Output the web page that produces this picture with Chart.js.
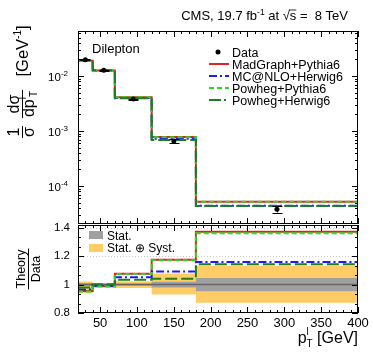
<!DOCTYPE html>
<html>
<head>
<meta charset="utf-8">
<script src="https://cdn.jsdelivr.net/npm/chart.js@4.4.1/dist/chart.umd.min.js"></script>
<style>
  html, body { margin: 0; padding: 0; background: #fff; }
  #wrap { position: relative; width: 373px; height: 357px; }
  canvas { position: absolute; left: 0; top: 0; }
</style>
</head>
<body>
<div id="wrap">
  <canvas id="ratio" width="373" height="357"></canvas>
  <canvas id="main" width="373" height="357"></canvas>
</div>
<script>
// bins in p_T^l [GeV]
const binEdges = [20, 40, 70, 120, 180, 400];
const dataX = [30, 55, 95, 150, 290];

// normalised cross section, top panel
const dataValues = [0.0198, 0.0127, 0.0038, 0.00066, 0.000038];
const dataErrors = [0.0005, 0.00015, 0.00009, 0.00005, 0.000005];
const madgraphValues = [0.0189, 0.01255, 0.0041, 0.00078, 0.000052];
const mcatnloValues = [0.0191, 0.0126, 0.0040, 0.00072, 0.000044];
const powhegPythiaValues = [0.0188, 0.01255, 0.0041, 0.00077, 0.0000518];
const powhegHerwigValues = [0.0194, 0.0127, 0.00393, 0.00069, 0.0000434];

// theory / data, bottom panel
const madgraphRatio = [0.955, 0.988, 1.077, 1.175, 1.372];
const mcatnloRatio = [0.966, 0.992, 1.051, 1.092, 1.160];
const powhegPythiaRatio = [0.952, 0.986, 1.074, 1.172, 1.362];
const powhegHerwigRatio = [0.980, 1.002, 1.035, 1.042, 1.143];
const statLow = [0.991, 0.994, 0.992, 0.980, 0.953];
const statHigh = [1.009, 1.006, 1.008, 1.020, 1.047];
const statSystLow = [0.940, 0.988, 0.977, 0.930, 0.872];
const statSystHigh = [1.022, 1.012, 1.023, 1.078, 1.133];

// axis ticks
const xTickValues = [50, 100, 150, 200, 250, 300, 350, 400];
const logTickValues = [1e-4, 1e-3, 1e-2];
const logTickExponents = ['-4', '-3', '-2'];
const ratioTickValues = [0.8, 1, 1.2, 1.4];
const ratioTickLabels = ['0.8', '1', '1.2', '1.4'];

const FONT = '"Liberation Sans", Arial, Helvetica, sans-serif';
const RED = '#e62020', BLUE = '#1a1aff', GREEN = '#22dd22', DKGREEN = '#1e7d1e';

function font(size) { return size + 'px ' + FONT; }

function stepPoints(values) {
  const pts = [];
  values.forEach((v, i) => {
    pts.push({ x: binEdges[i], y: v }, { x: binEdges[i + 1], y: v });
  });
  return pts;
}

function stepLine(label, values, color, dash, extra) {
  return Object.assign({
    label: label,
    data: stepPoints(values),
    borderColor: color,
    borderDash: dash,
    borderWidth: 2,
    pointRadius: 0,
    fill: false,
    tension: 0
  }, extra || {});
}

// parts: [text, size, dy]
function partsWidth(ctx, parts) {
  let w = 0;
  parts.forEach(([t, s]) => { ctx.font = font(s); w += ctx.measureText(t).width; });
  return w;
}
function drawParts(ctx, parts, x, y) {
  let cx = x;
  parts.forEach(([t, s, dy]) => {
    ctx.font = font(s);
    ctx.fillText(t, cx, y + (dy || 0));
    cx += ctx.measureText(t).width;
  });
}

function minorX() {
  const list = [];
  for (let v = 20; v <= 400; v += 10) list.push([v, v % 50 === 0 ? 6 : 3]);
  return list;
}

function frameAndTicks(chart, yList) {
  const { ctx, chartArea: a, scales } = chart;
  ctx.save();
  ctx.strokeStyle = '#000';
  ctx.lineWidth = 1;
  ctx.beginPath();
  minorX().forEach(([v, len]) => {
    const px = Math.round(scales.x.getPixelForValue(v)) + 0.5;
    ctx.moveTo(px, a.bottom); ctx.lineTo(px, a.bottom - len);
    ctx.moveTo(px, a.top); ctx.lineTo(px, a.top + len);
  });
  yList.forEach(([v, len]) => {
    const py = Math.round(scales.y.getPixelForValue(v)) + 0.5;
    ctx.moveTo(a.left, py); ctx.lineTo(a.left + len, py);
    ctx.moveTo(a.right, py); ctx.lineTo(a.right - len, py);
  });
  ctx.stroke();
  ctx.strokeRect(a.left + 0.5, a.top + 0.5, a.right - a.left - 1, a.bottom - a.top - 1);
  ctx.restore();
}

// rotated fraction, bar centred at (x, y) on screen
function rotatedFraction(ctx, num, den, x, y, denOffset) {
  ctx.save();
  ctx.translate(x, y);
  ctx.rotate(-Math.PI / 2);
  const wn = partsWidth(ctx, num), wd = partsWidth(ctx, den);
  const L = Math.max(wn, wd) + 2;
  ctx.lineWidth = 1;
  ctx.beginPath();
  ctx.moveTo(-L / 2, 0.5); ctx.lineTo(L / 2, 0.5);
  ctx.stroke();
  drawParts(ctx, num, -wn / 2, -3);
  drawParts(ctx, den, -wd / 2, denOffset);
  ctx.restore();
}

const mainDecor = {
  id: 'mainDecor',
  afterDatasetsDraw(chart) {
    const { ctx, scales } = chart;
    ctx.save();
    ctx.strokeStyle = '#000';
    ctx.lineWidth = 1;
    dataX.forEach((xv, i) => {
      const px = Math.round(scales.x.getPixelForValue(xv)) + 0.5;
      const y1 = scales.y.getPixelForValue(dataValues[i] + dataErrors[i]);
      const y2 = scales.y.getPixelForValue(dataValues[i] - dataErrors[i]);
      ctx.beginPath();
      ctx.moveTo(px, y1); ctx.lineTo(px, y2);
      ctx.moveTo(px - 5, Math.round(y1) + 0.5); ctx.lineTo(px + 5, Math.round(y1) + 0.5);
      ctx.moveTo(px - 5, Math.round(y2) + 0.5); ctx.lineTo(px + 5, Math.round(y2) + 0.5);
      ctx.stroke();
    });
    ctx.restore();
  },
  afterDraw(chart) {
    const { ctx, scales } = chart;
    const yList = [];
    for (let n = -5; n <= -1; n++) {
      for (let k = 1; k <= 9; k++) {
        const v = k * Math.pow(10, n);
        if (v >= scales.y.min && v <= scales.y.max) yList.push([v, k === 1 ? 6 : 3]);
      }
    }
    frameAndTicks(chart, yList);

    ctx.save();
    ctx.fillStyle = '#000';
    ctx.strokeStyle = '#000';
    ctx.textBaseline = 'alphabetic';

    // log tick labels
    logTickValues.forEach((v, i) => {
      const py = scales.y.getPixelForValue(v);
      const parts = [['10', 11.5, 0], [logTickExponents[i], 8, -5]];
      const w = partsWidth(ctx, parts);
      drawParts(ctx, parts, 68 - w, py + 5);
    });

    // header
    const HS = 13;
    const head1 = [['CMS, 19.7 fb', HS, 0], ['-1', 8.5, -5], [' at ', HS, 0]];
    const head2 = [[' =  8 TeV', HS, 0]];
    ctx.font = font(HS);
    const wRoot = ctx.measureText('\u221A').width, wS = ctx.measureText('s').width;
    const total = partsWidth(ctx, head1) + wRoot + wS + partsWidth(ctx, head2);
    let hx = 348 - total;
    drawParts(ctx, head1, hx, 19.5);
    hx += partsWidth(ctx, head1);
    ctx.font = font(HS);
    ctx.fillText('\u221A', hx, 19.5);
    hx += wRoot;
    ctx.fillText('s', hx, 19.5);
    ctx.lineWidth = 0.8;
    ctx.beginPath();
    ctx.moveTo(hx - 1, 10); ctx.lineTo(hx + wS, 10);
    ctx.stroke();
    hx += wS;
    drawParts(ctx, head2, hx, 19.5);

    // channel label
    ctx.font = font(13);
    ctx.fillText('Dilepton', 92, 53);

    // legend
    const rows = [
      ['Data', null, null],
      ['MadGraph+Pythia6', RED, []],
      ['MC@NLO+Herwig6', BLUE, [8, 3, 2, 3]],
      ['Powheg+Pythia6', GREEN, [5, 3]],
      ['Powheg+Herwig6', DKGREEN, [12, 3, 2, 3]]
    ];
    rows.forEach(([label, color, dash], i) => {
      const ry = 52 + i * 12;
      if (color) {
        ctx.save();
        ctx.strokeStyle = color;
        ctx.lineWidth = 2;
        ctx.setLineDash(dash);
        ctx.beginPath();
        ctx.moveTo(209, ry); ctx.lineTo(229, ry);
        ctx.stroke();
        ctx.restore();
      } else {
        ctx.beginPath();
        ctx.arc(218, ry, 2.5, 0, Math.PI * 2);
        ctx.fill();
      }
      ctx.font = font(12.5);
      ctx.fillText(label, 232, ry + 4.5);
    });

    // y title
    ctx.lineWidth = 1;
    rotatedFraction(ctx, [['1', 16, 0]], [['\u03C3', 16, 0]], 22, 132, 12);
    rotatedFraction(ctx, [['d\u03C3', 16, 0]],
      [['dp', 16, 0], ['l', 10, -8], ['T', 10, 3]], 22, 104, 12);
    ctx.save();
    ctx.translate(28, 51);
    ctx.rotate(-Math.PI / 2);
    const g = [['[GeV', 16.5, 0], ['-1', 10, -7], [']', 16.5, 0]];
    drawParts(ctx, g, -partsWidth(ctx, g) / 2, 0);
    ctx.restore();

    ctx.restore();
  }
};

const ratioDecor = {
  id: 'ratioDecor',
  beforeDatasetsDraw(chart) {
    const { ctx, chartArea: a, scales } = chart;
    ctx.save();
    ctx.strokeStyle = '#c8c8c8';
    ctx.lineWidth = 1;
    ctx.setLineDash([1, 2]);
    [1.2, 1.4].forEach(v => {
      const py = Math.round(scales.y.getPixelForValue(v)) + 0.5;
      ctx.beginPath();
      ctx.moveTo(a.left, py); ctx.lineTo(a.right, py);
      ctx.stroke();
    });
    ctx.restore();
  },
  afterDraw(chart) {
    const { ctx } = chart;
    const yList = [];
    for (let k = 0; k <= 9; k++) {
      const v = 0.8 + k * 0.2 / 3;
      yList.push([v, k % 3 === 0 ? 6 : 3]);
    }
    frameAndTicks(chart, yList);

    ctx.save();
    ctx.fillStyle = '#000';
    ctx.strokeStyle = '#000';

    // band legend
    ctx.fillStyle = '#a0a0a0';
    ctx.fillRect(89, 231, 14, 8);
    ctx.fillStyle = '#ffcc66';
    ctx.fillRect(89, 244, 14, 8);
    ctx.fillStyle = '#000';
    ctx.font = font(12);
    ctx.fillText('Stat.', 107, 239.5);
    ctx.fillText('Stat. \u2295 Syst.', 107, 252);

    // y title
    rotatedFraction(ctx, [['Theory', 12.5, 0]], [['Data', 12.5, 0]], 28, 269, 12);

    // x title
    const wp = partsWidth(ctx, [['p', 16]]);
    const wsub = Math.max(partsWidth(ctx, [['T', 10]]), partsWidth(ctx, [['l', 10]]));
    const wrest = partsWidth(ctx, [[' [GeV]', 16]]);
    let tx = 358 - wp - wsub - wrest;
    drawParts(ctx, [['p', 16, 0]], tx, 343);
    tx += wp;
    drawParts(ctx, [['l', 10, -8]], tx, 343);
    drawParts(ctx, [['T', 10, 4]], tx, 343);
    tx += wsub;
    drawParts(ctx, [[' [GeV]', 16, 0]], tx, 343);
    ctx.restore();
  }
};

new Chart(document.getElementById('main'), {
  type: 'line',
  data: {
    datasets: [
      {
        label: 'Data',
        data: dataX.map((x, i) => ({ x: x, y: dataValues[i] })),
        showLine: false,
        pointRadius: 2.5,
        pointBackgroundColor: '#000',
        pointBorderWidth: 0
      },
      stepLine('Powheg+Herwig6', powhegHerwigValues, DKGREEN, [12, 4]),
      stepLine('Powheg+Pythia6', powhegPythiaValues, GREEN, [5, 3]),
      stepLine('MC@NLO+Herwig6', mcatnloValues, BLUE, [8, 3, 2, 3]),
      stepLine('MadGraph+Pythia6', madgraphValues, RED, [])
    ]
  },
  options: {
    responsive: false,
    animation: false,
    layout: { padding: { left: 78, right: 15, top: 31, bottom: 133 } },
    plugins: { legend: { display: false }, tooltip: { enabled: false } },
    scales: {
      x: { type: 'linear', min: 20, max: 400, display: false },
      y: { type: 'logarithmic', min: 2.04e-5, max: 0.0658, display: false }
    }
  },
  plugins: [mainDecor]
});

new Chart(document.getElementById('ratio'), {
  type: 'line',
  data: {
    datasets: [
      stepLine('Powheg+Herwig6', powhegHerwigRatio, DKGREEN, [12, 4]),
      stepLine('Powheg+Pythia6', powhegPythiaRatio, GREEN, [5, 3]),
      stepLine('MC@NLO+Herwig6', mcatnloRatio, BLUE, [8, 3, 2, 3]),
      stepLine('MadGraph+Pythia6', madgraphRatio, RED, []),
      {
        label: 'unity',
        data: [{ x: 20, y: 1 }, { x: 400, y: 1 }],
        borderColor: '#666',
        borderWidth: 1.5,
        pointRadius: 0,
        fill: false
      },
      stepLine('Stat. high', statHigh, 'rgba(0,0,0,0)', [], { borderWidth: 0, fill: '+1', backgroundColor: '#a0a0a0' }),
      stepLine('Stat. low', statLow, 'rgba(0,0,0,0)', [], { borderWidth: 0 }),
      stepLine('Syst. high', statSystHigh, 'rgba(0,0,0,0)', [], { borderWidth: 0, fill: '+1', backgroundColor: '#ffcc66' }),
      stepLine('Syst. low', statSystLow, 'rgba(0,0,0,0)', [], { borderWidth: 0 })
    ]
  },
  options: {
    responsive: false,
    animation: false,
    layout: { padding: { left: 0, right: 15, top: 225, bottom: 0 } },
    plugins: { legend: { display: false }, tooltip: { enabled: false } },
    scales: {
      x: {
        type: 'linear', min: 20, max: 400,
        afterBuildTicks: s => { s.ticks = xTickValues.map(v => ({ value: v })); },
        afterFit: s => { s.height = 44; },
        grid: { display: false, drawTicks: false },
        border: { display: false },
        ticks: { color: '#000', font: { family: FONT, size: 13 }, padding: 3, maxRotation: 0, autoSkip: false }
      },
      y: {
        type: 'linear', min: 0.8, max: 1.42,
        afterBuildTicks: s => { s.ticks = ratioTickValues.map(v => ({ value: v })); },
        afterFit: s => { s.width = 78; },
        grid: { display: false, drawTicks: false },
        border: { display: false },
        ticks: {
          color: '#000', font: { family: FONT, size: 11.5 }, padding: 8,
          callback: v => ratioTickLabels[ratioTickValues.indexOf(v)]
        }
      }
    }
  },
  plugins: [ratioDecor]
});
</script>
</body>
</html>
